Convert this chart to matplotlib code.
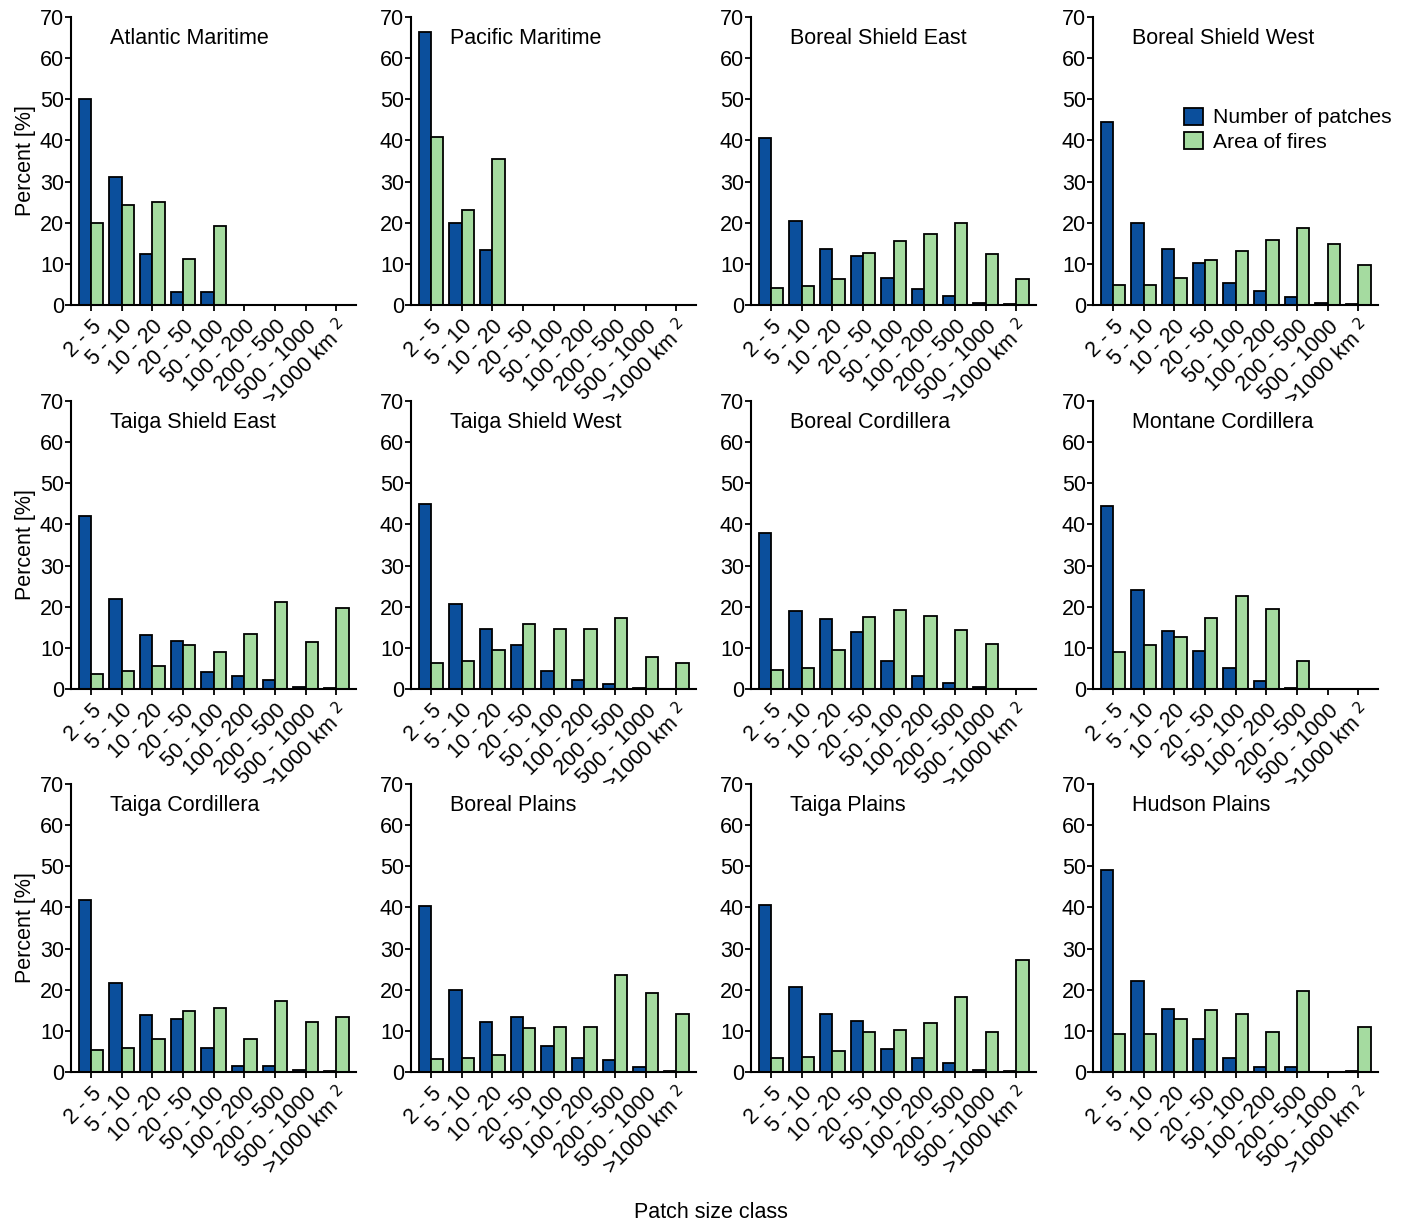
import matplotlib
matplotlib.use('Agg')
import matplotlib.pyplot as plt
import numpy as np

plt.rcParams['font.family'] = ['Liberation Sans', 'DejaVu Sans']

classes = ['2 - 5', '5 - 10', '10 - 20', '20 - 50', '50 - 100', '100 - 200',
           '200 - 500', '500 - 1000', '>1000 km $^2$']

regions = ['Atlantic Maritime', 'Pacific Maritime', 'Boreal Shield East', 'Boreal Shield West',
           'Taiga Shield East', 'Taiga Shield West', 'Boreal Cordillera', 'Montane Cordillera',
           'Taiga Cordillera', 'Boreal Plains', 'Taiga Plains', 'Hudson Plains']

# number of patches [%]
patches = [
    [50.0, 31.1, 12.4, 3.1, 3.1, 0, 0, 0, 0],
    [66.4, 19.9, 13.4, 0, 0, 0, 0, 0, 0],
    [40.6, 20.5, 13.5, 11.8, 6.6, 3.8, 2.1, 0.5, 0.15],
    [44.6, 20.0, 13.5, 10.1, 5.4, 3.3, 1.9, 0.6, 0.15],
    [42.0, 21.8, 13.1, 11.6, 4.2, 3.1, 2.2, 0.5, 0.25],
    [45.0, 20.7, 14.6, 10.7, 4.4, 2.1, 1.2, 0.25, 0.1],
    [37.8, 18.9, 17.0, 13.9, 6.9, 3.2, 1.4, 0.4, 0],
    [44.6, 24.0, 14.2, 9.2, 5.0, 2.0, 0.25, 0, 0],
    [41.9, 21.6, 13.9, 12.9, 5.9, 1.5, 1.5, 0.4, 0.25],
    [40.4, 19.9, 12.1, 13.4, 6.4, 3.3, 2.9, 1.2, 0.25],
    [40.6, 20.7, 14.2, 12.4, 5.7, 3.3, 2.3, 0.4, 0.25],
    [49.2, 22.1, 15.3, 8.0, 3.3, 1.2, 1.1, 0, 0.25],
]

# area of fires [%]
area = [
    [19.9, 24.4, 25.0, 11.2, 19.1, 0, 0, 0, 0],
    [40.8, 23.1, 35.6, 0, 0, 0, 0, 0, 0],
    [4.1, 4.7, 6.2, 12.7, 15.6, 17.2, 19.9, 12.4, 6.3],
    [4.8, 4.8, 6.6, 10.9, 13.2, 15.9, 18.8, 14.8, 9.7],
    [3.7, 4.3, 5.5, 10.7, 9.1, 13.3, 21.1, 11.4, 19.7],
    [6.4, 6.7, 9.4, 15.7, 14.5, 14.7, 17.3, 7.8, 6.3],
    [4.5, 5.2, 9.4, 17.6, 19.2, 17.7, 14.3, 10.9, 0],
    [9.1, 10.8, 12.7, 17.3, 22.7, 19.5, 6.9, 0, 0],
    [5.3, 5.9, 7.9, 14.8, 15.6, 8.0, 17.3, 12.1, 13.3],
    [3.1, 3.3, 4.1, 10.7, 11.0, 11.0, 23.5, 19.1, 14.2],
    [3.5, 3.7, 5.2, 9.8, 10.2, 11.9, 18.3, 9.8, 27.3],
    [9.2, 9.2, 12.8, 15.0, 14.0, 9.7, 19.6, 0, 10.9],
]

blue = '#0B4F9C'
green = '#A5DBA0'

W, H = 1407, 1222
fig = plt.figure(figsize=(W / 100, H / 100), dpi=100)

lefts = [71, 411, 751, 1093]
tops = [17, 401, 784]
aw, ah = 285, 288

x = np.arange(len(classes))
for i, name in enumerate(regions):
    r, c = divmod(i, 4)
    ax = fig.add_axes([lefts[c] / W, 1 - (tops[r] + ah) / H, aw / W, ah / H])
    ax.bar(x - 0.2, patches[i], 0.4, color=blue, edgecolor='black', linewidth=1.3,
           label='Number of patches')
    ax.bar(x + 0.2, area[i], 0.4, color=green, edgecolor='black', linewidth=1.3,
           label='Area of fires')
    ax.set_xlim(-0.65, 8.64)
    ax.set_ylim(0, 70)
    ax.set_yticks(range(0, 71, 10))
    ax.set_xticks(x)
    ax.set_xticklabels(classes, rotation=45, ha='right', rotation_mode='anchor')
    ax.tick_params(labelsize=15.5, width=1.3, length=4, direction='out', pad=1)
    ax.tick_params(axis='x', pad=4)
    for s in ['top', 'right']:
        ax.spines[s].set_visible(False)
    for s in ['left', 'bottom']:
        ax.spines[s].set_linewidth(1.5)
    ax.text(0.137, 0.927, name, transform=ax.transAxes, fontsize=15.5,
            ha='left', va='center')
    if c == 0:
        ax.set_ylabel('Percent [%]', fontsize=15.5, labelpad=3)
    if i == 3:
        ax.legend(loc='upper left', bbox_to_anchor=(0.32, 0.685), frameon=False,
                  fontsize=15.2, handlelength=0.9, handleheight=0.85,
                  handletextpad=0.45, borderpad=0, borderaxespad=0, labelspacing=0.22)

fig.text(711 / W, 1 - 1212 / H, 'Patch size class', fontsize=15.5, ha='center', va='center')

fig.savefig('out.png', dpi=100)
